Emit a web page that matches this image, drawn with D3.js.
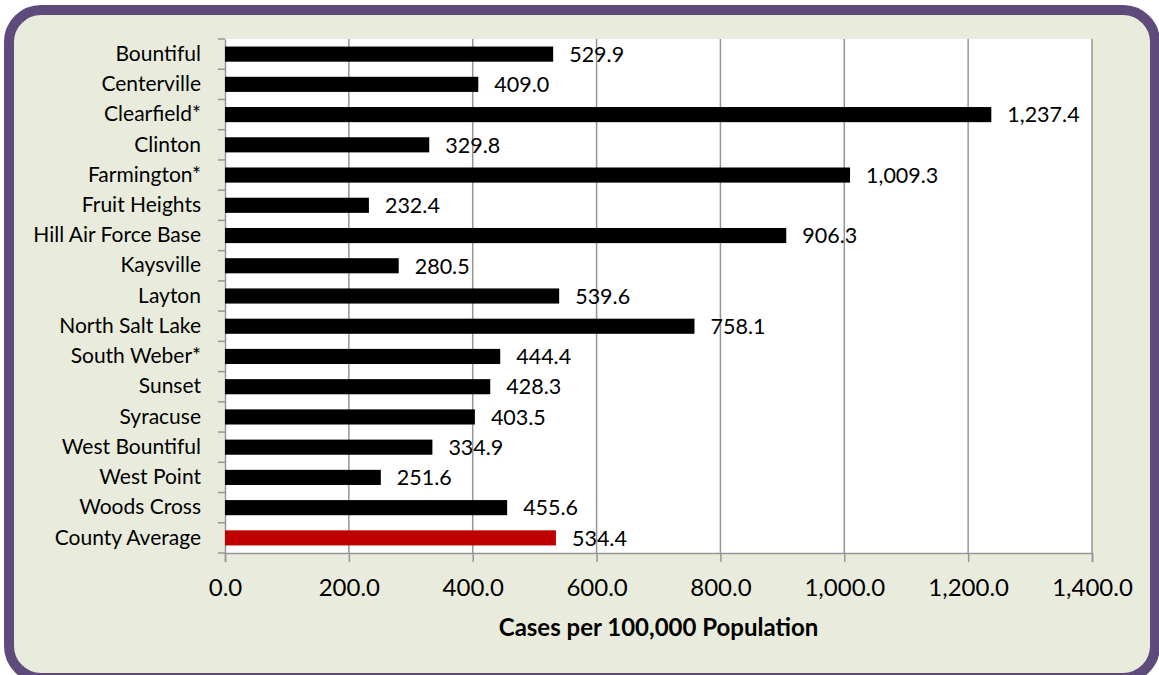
<!DOCTYPE html>
<html>
<head>
<meta charset="utf-8">
<script src="https://cdn.jsdelivr.net/npm/d3@7"></script>
<style>
  html, body { margin: 0; padding: 0; background: #ffffff; }
  svg { display: block; font-family: Lato, "Open Sans", sans-serif; }
</style>
</head>
<body>
<svg id="chart"></svg>
<script>
const categories = [
  "Bountiful", "Centerville", "Clearfield*", "Clinton", "Farmington*",
  "Fruit Heights", "Hill Air Force Base", "Kaysville", "Layton",
  "North Salt Lake", "South Weber*", "Sunset", "Syracuse",
  "West Bountiful", "West Point", "Woods Cross", "County Average"
];
const rates = [
  529.9, 409.0, 1237.4, 329.8, 1009.3, 232.4, 906.3, 280.5, 539.6,
  758.1, 444.4, 428.3, 403.5, 334.9, 251.6, 455.6, 534.4
];
const xTicks = [0, 200, 400, 600, 800, 1000, 1200, 1400];
const xTitle = "Cases per 100,000 Population";

const width = 1159, height = 675;
const plot = { left: 225, right: 1092, top: 39, bottom: 553 };

const svg = d3.select("#chart")
  .attr("width", width)
  .attr("height", height);

// frame
svg.append("rect")
  .attr("x", 9).attr("y", 10)
  .attr("width", 1146).attr("height", 668)
  .attr("rx", 32).attr("ry", 32)
  .attr("fill", "#e9ecdc")
  .attr("stroke", "#5f4a7c")
  .attr("stroke-width", 10);

// plot area
svg.append("rect")
  .attr("x", plot.left).attr("y", plot.top)
  .attr("width", plot.right - plot.left)
  .attr("height", plot.bottom - plot.top)
  .attr("fill", "#ffffff");

const data = categories.map((c, i) => ({ name: c, value: rates[i] }));

const x = d3.scaleLinear()
  .domain([0, 1400])
  .range([plot.left, plot.right]);

const y = d3.scaleBand()
  .domain(categories)
  .range([plot.top, plot.bottom])
  .paddingInner(0.5)
  .paddingOuter(0.25);

// vertical gridlines
svg.append("g")
  .selectAll("line")
  .data(xTicks.slice(1))
  .join("line")
  .attr("x1", d => x(d)).attr("x2", d => x(d))
  .attr("y1", plot.top).attr("y2", plot.bottom)
  .attr("stroke", "#969696")
  .attr("stroke-width", 1.5);

// x axis
const xAxis = svg.append("g")
  .attr("transform", `translate(0,${plot.bottom})`)
  .call(d3.axisBottom(x)
    .tickValues(xTicks)
    .tickSize(9)
    .tickPadding(17)
    .tickFormat(d => d3.format(",.1f")(d)));
xAxis.select(".domain").attr("stroke", "#969696").attr("stroke-width", 1.5);
xAxis.selectAll(".tick line").attr("stroke", "#969696").attr("stroke-width", 1.5);
xAxis.selectAll("text")
  .attr("font-size", 24)
  .attr("font-family", "Lato, sans-serif")
  .attr("fill", "#000");

// y axis
const bandStep = y.step();
const yAxis = svg.append("g")
  .attr("transform", `translate(${plot.left},0)`)
  .call(d3.axisLeft(y).tickSize(0).tickPadding(24));
yAxis.select(".domain").attr("stroke", "#969696").attr("stroke-width", 1.5);
yAxis.selectAll("text")
  .attr("font-size", 21)
  .attr("font-family", "Lato, sans-serif")
  .attr("fill", "#000");

// y boundary ticks
svg.append("g")
  .selectAll("line")
  .data(d3.range(categories.length + 1))
  .join("line")
  .attr("x1", plot.left - 7).attr("x2", plot.left)
  .attr("y1", i => plot.top + i * bandStep)
  .attr("y2", i => plot.top + i * bandStep)
  .attr("stroke", "#969696")
  .attr("stroke-width", 1.5);

// bars
svg.append("g")
  .selectAll("rect")
  .data(data)
  .join("rect")
  .attr("x", x(0))
  .attr("y", d => y(d.name))
  .attr("width", d => x(d.value) - x(0))
  .attr("height", y.bandwidth())
  .attr("fill", d => d.name === "County Average" ? "#c00000" : "#000000");

// value labels
svg.append("g")
  .selectAll("text")
  .data(data)
  .join("text")
  .attr("x", d => x(d.value) + 16)
  .attr("y", d => y(d.name) + y.bandwidth() / 2)
  .attr("dy", "0.36em")
  .attr("font-size", 21.5)
  .attr("fill", "#000")
  .text(d => d3.format(",.1f")(d.value));

// axis title
svg.append("text")
  .attr("x", (plot.left + plot.right) / 2)
  .attr("y", 636)
  .attr("text-anchor", "middle")
  .attr("font-size", 24)
  .attr("font-weight", "bold")
  .attr("fill", "#000")
  .text(xTitle);
</script>
</body>
</html>
